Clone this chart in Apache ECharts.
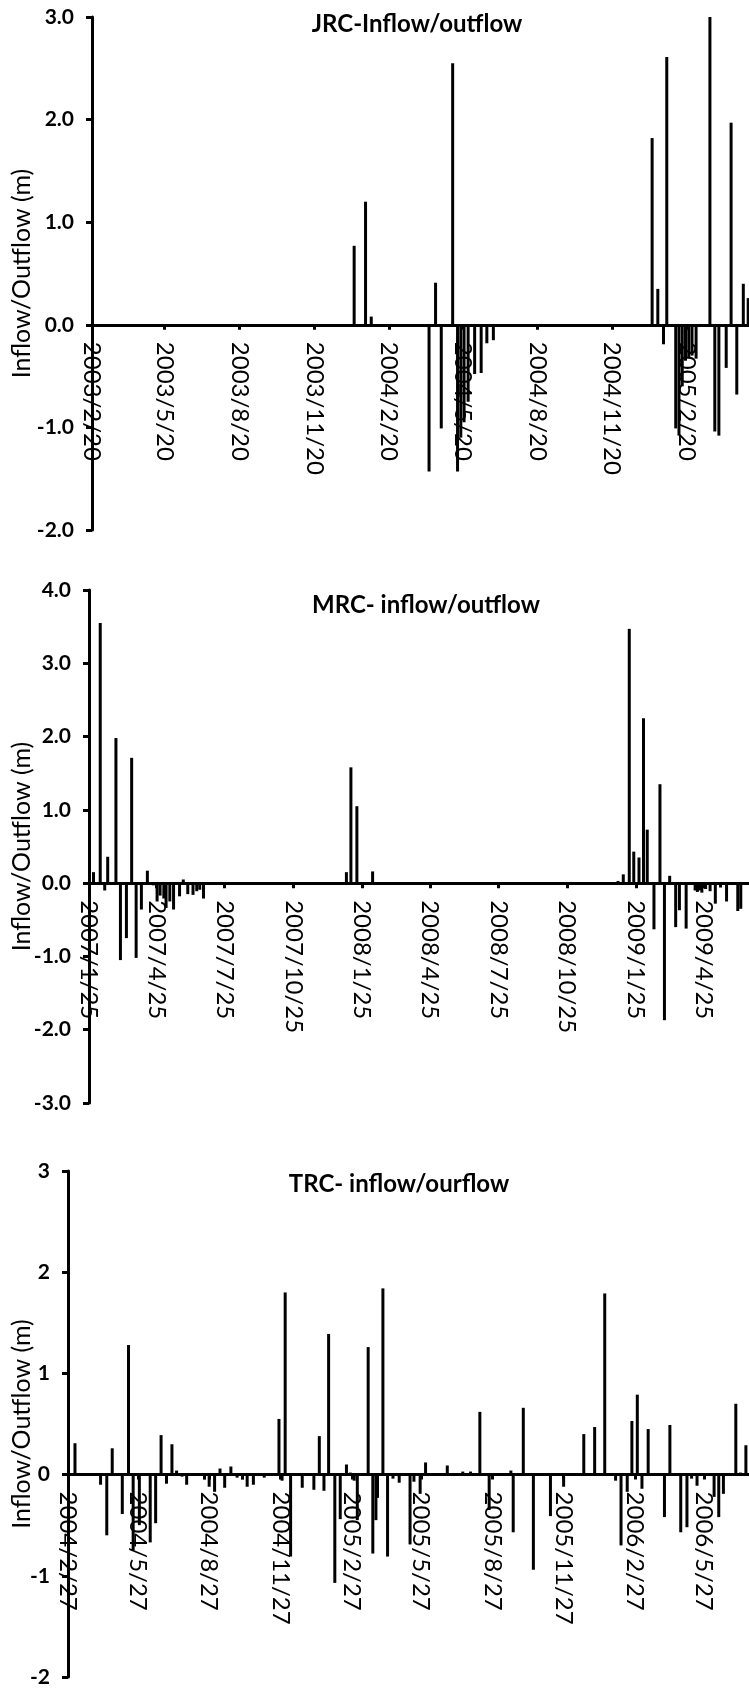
<!DOCTYPE html>
<html>
<head>
<meta charset="utf-8">
<script src="https://cdn.jsdelivr.net/npm/echarts@6.0.0/dist/echarts.min.js"></script>
<style>
    html, body { margin: 0; padding: 0; background: #fff; }
    #chart { width: 749px; height: 1689px; }
</style>
</head>
<body>
<div id="chart"></div>
<script>
var FONT = 'Lato, "Open Sans", sans-serif';

// JRC
var jrcTicks = ['2003-02-20', '2003-05-20', '2003-08-20', '2003-11-20', '2004-02-20',
    '2004-05-20', '2004-08-20', '2004-11-20', '2005-02-20'];
var jrcDates = ['2004-01-08', '2004-01-22', '2004-01-29', '2004-04-09', '2004-04-17', '2004-04-24',
    '2004-05-08', '2004-05-14', '2004-05-18', '2004-05-22', '2004-05-27',
    '2004-06-04', '2004-06-12', '2004-06-19', '2004-06-27', '2005-01-08', '2005-01-15', '2005-01-22',
    '2005-01-26', '2005-02-06', '2005-02-10', '2005-02-14', '2005-02-18', '2005-02-22', '2005-02-26',
    '2005-03-03', '2005-03-20', '2005-03-26', '2005-03-31', '2005-04-09', '2005-04-15', '2005-04-22',
    '2005-04-30', '2005-05-06'];
var jrcValues = [0.77, 1.20, 0.08, -1.43, 0.41, -1.01,
    2.55, -1.43, -1.10, -0.95, -0.75,
    -0.48, -0.47, -0.18, -0.15, 1.82, 0.35, -0.19,
    2.61, -1.01, -1.08, -0.60, -0.35, -0.32, -0.30,
    -0.33, 3.00, -1.04, -1.08, -0.42, 1.97, -0.68,
    0.40, 0.26];

// MRC
var mrcTicks = ['2007-01-25', '2007-04-25', '2007-07-25', '2007-10-25', '2008-01-25',
    '2008-04-25', '2008-07-25', '2008-10-25', '2009-01-25', '2009-04-25'];
var mrcDates = ['2007-01-31', '2007-02-09', '2007-02-15', '2007-02-19', '2007-03-02', '2007-03-08',
    '2007-03-16', '2007-03-23', '2007-03-29', '2007-04-05', '2007-04-13', '2007-04-21', '2007-04-26',
    '2007-04-30', '2007-05-05', '2007-05-08', '2007-05-13', '2007-05-18', '2007-05-26', '2007-05-31',
    '2007-06-06', '2007-06-13', '2007-06-18', '2007-06-22', '2007-06-27',
    '2008-01-04', '2008-01-10', '2008-01-18', '2008-02-08',
    '2009-01-01', '2009-01-08', '2009-01-16', '2009-01-22', '2009-01-29', '2009-02-04', '2009-02-09',
    '2009-02-18', '2009-02-26', '2009-03-04', '2009-03-11', '2009-03-19', '2009-03-24', '2009-04-02',
    '2009-04-14', '2009-04-17', '2009-04-20', '2009-04-23', '2009-04-28', '2009-05-04', '2009-05-11',
    '2009-05-18', '2009-05-26', '2009-06-10', '2009-06-14'];
var mrcValues = [0.15, 3.55, -0.10, 0.36, 1.98, -1.05,
    -0.75, 1.71, -1.02, -0.36, 0.17, -0.03, -0.25,
    -0.17, -0.21, -0.34, -0.25, -0.36, -0.18, 0.05,
    -0.15, -0.16, -0.11, -0.09, -0.21,
    0.15, 1.58, 1.05, 0.16,
    0.03, 0.12, 3.47, 0.43, 0.35, 2.25, 0.73,
    -0.63, 1.35, -1.87, 0.10, -0.60, -0.37, -0.62,
    -0.10, -0.12, -0.10, -0.13, -0.08, -0.11, -0.28,
    -0.06, -0.25, -0.38, -0.35];

// TRC
var trcTicks = ['2004-02-27', '2004-05-27', '2004-08-27', '2004-11-27', '2005-02-27',
    '2005-05-27', '2005-08-27', '2005-11-27', '2006-02-27', '2006-05-27'];
var trcDates = ['2004-03-07', '2004-04-09', '2004-04-17', '2004-04-24', '2004-05-07', '2004-05-15',
    '2004-05-21', '2004-05-29', '2004-06-12', '2004-06-19', '2004-06-26', '2004-07-03', '2004-07-10',
    '2004-07-16', '2004-07-23', '2004-07-29', '2004-08-21', '2004-08-27', '2004-09-03', '2004-09-10',
    '2004-09-16', '2004-09-24', '2004-10-02', '2004-10-09', '2004-10-15', '2004-10-23', '2004-11-06',
    '2004-11-25', '2004-11-29', '2004-12-03', '2004-12-10', '2004-12-25',
    '2005-01-09', '2005-01-16', '2005-01-22', '2005-01-28', '2005-02-05', '2005-02-12', '2005-02-20',
    '2005-02-25', '2005-03-02', '2005-03-06', '2005-03-20', '2005-03-26', '2005-03-30', '2005-04-01',
    '2005-04-08', '2005-04-14', '2005-04-21', '2005-04-29', '2005-05-13', '2005-05-18', '2005-05-26',
    '2005-06-02', '2005-06-30', '2005-07-20', '2005-07-30', '2005-08-11', '2005-08-23', '2005-09-20',
    '2005-09-23', '2005-10-06', '2005-10-19', '2005-11-10', '2005-11-27', '2005-12-23',
    '2006-01-06', '2006-01-19', '2006-02-02', '2006-02-09', '2006-02-17', '2006-02-23', '2006-03-02',
    '2006-03-08', '2006-03-16', '2006-04-06', '2006-04-13', '2006-04-27', '2006-05-05', '2006-05-11',
    '2006-05-18', '2006-06-09', '2006-06-15', '2006-06-21', '2006-07-07', '2006-07-13', '2006-07-20'];
var trcValues = [0.31, -0.10, -0.60, 0.26, -0.39, 1.28,
    -0.75, -0.50, -0.67, -0.48, 0.39, -0.09, 0.30,
    0.04, -0.02, -0.10, -0.05, -0.12, -0.17, 0.06,
    -0.13, 0.08, -0.03, -0.05, -0.12, -0.10, -0.03,
    0.55, -0.06, 1.80, -0.81, -0.13,
    -0.15, 0.38, -0.16, 1.39, -1.07, -0.44, 0.10,
    0.02, -0.06, -0.45, 1.26, -0.78, -0.45, -0.23,
    1.84, -0.81, -0.04, -0.08, -0.69, -0.07, -0.19,
    0.12, 0.09, 0.03, 0.03, 0.62, -0.35, 0.04,
    -0.57, 0.66, -0.94, -0.41, -0.12, 0.40,
    0.47, 1.79, -0.06, -0.70, -0.17, 0.53, 0.79,
    -0.14, 0.45, -0.42, 0.49, -0.57, -0.52, -0.04,
    -0.11, -0.22, -0.42, -0.19, 0.70, 0.02, 0.29];

var panels = [
    { title: 'JRC-Inflow/outflow', titleX: 412, titleY: 7, left: 92, top: 17, height: 513,
      start: '2003-02-20', end: '2005-05-07', ticks: jrcTicks, dates: jrcDates, values: jrcValues,
      yMin: -2, yMax: 3, digits: 1 },
    { title: 'MRC- inflow/outflow', titleX: 421, titleY: 588, left: 89, top: 590, height: 513,
      start: '2007-01-25', end: '2009-06-25', ticks: mrcTicks, dates: mrcDates, values: mrcValues,
      yMin: -3, yMax: 4, digits: 1 },
    { title: 'TRC- inflow/ourflow', titleX: 394, titleY: 1167, left: 68, top: 1171, height: 506,
      start: '2004-02-27', end: '2006-07-24', ticks: trcTicks, dates: trcDates, values: trcValues,
      yMin: -2, yMax: 3, digits: 0 }
];

function ts(s) {
    var p = s.split('-');
    return new Date(+p[0], p[1] - 1, +p[2]).getTime();
}

function fmtDate(v) {
    var d = new Date(v);
    return d.getFullYear() + '/' + (d.getMonth() + 1) + '/' + d.getDate();
}

var option = {
    animation: false,
    title: [],
    grid: [],
    xAxis: [],
    yAxis: [],
    series: []
};

panels.forEach(function (p, i) {
    var tickTs = p.ticks.map(ts);
    // distance of the zero line above the grid bottom; the whole x axis sits there
    var zeroUp = p.height * (0 - p.yMin) / (p.yMax - p.yMin);

    option.title.push({
        text: p.title,
        left: p.titleX,
        top: p.titleY,
        textAlign: 'center',
        textStyle: { fontFamily: FONT, fontSize: 24, fontWeight: 'bold', color: '#000' }
    });

    option.grid.push({
        left: p.left, right: 0, top: p.top, height: p.height,
        containLabel: false, outerBoundsMode: 'none'
    });

    option.xAxis.push({
        type: 'value',
        gridIndex: i,
        position: 'bottom',
        offset: -zeroUp,
        min: ts(p.start),
        max: ts(p.end),
        splitLine: { show: false },
        axisLine: { onZero: false, lineStyle: { color: '#000', width: 3 } },
        axisTick: {
            show: true, customValues: tickTs, length: 5,
            lineStyle: { color: '#000', width: 3 }
        },
        axisLabel: {
            customValues: tickTs,
            rotate: -90,
            margin: 17,
            fontFamily: FONT,
            fontSize: 24,
            color: '#000',
            hideOverlap: false,
            formatter: fmtDate
        }
    });

    option.yAxis.push({
        type: 'value',
        gridIndex: i,
        min: p.yMin,
        max: p.yMax,
        interval: 1,
        name: 'Inflow/Outflow (m)',
        nameLocation: 'middle',
        nameGap: p.left - 34,
        nameMoveOverlap: false,
        nameTextStyle: { fontFamily: FONT, fontSize: 25, color: '#000' },
        splitLine: { show: false },
        axisLine: { show: true, onZero: false, lineStyle: { color: '#000', width: 3 } },
        axisTick: { show: true, length: 6, lineStyle: { color: '#000', width: 3 } },
        axisLabel: {
            margin: 18,
            fontFamily: FONT,
            fontSize: 21,
            fontWeight: 'bold',
            color: '#000',
            formatter: function (v) { return v.toFixed(p.digits); }
        }
    });

    option.series.push({
        type: 'bar',
        xAxisIndex: i,
        yAxisIndex: i,
        barWidth: 3,
        silent: true,
        itemStyle: { color: '#000' },
        data: p.dates.map(function (d, k) { return [ts(d), p.values[k]]; })
    });
});

var myChart = echarts.init(document.getElementById('chart'));
myChart.setOption(option);
</script>
</body>
</html>
